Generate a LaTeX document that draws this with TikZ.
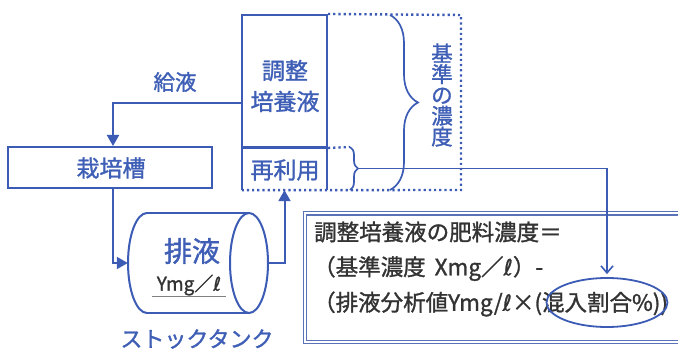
\documentclass[tikz,border=0pt]{standalone}
\usepackage{fontspec}
\setmainfont{Noto Sans CJK JP}
\newfontfamily\jp[FakeBold=1.3]{Noto Sans CJK JP}
\newfontfamily\dv[FakeBold=1]{DejaVu Sans}
\usetikzlibrary{arrows.meta,decorations.pathreplacing,shapes.geometric,calc}
\definecolor{lblue}{HTML}{3B5BB5}
\definecolor{tblue}{HTML}{3F5FB6}
\definecolor{tgray}{HTML}{333333}
\definecolor{bcol}{HTML}{5A72B8}
\begin{document}
\begin{tikzpicture}[x=1pt,y=-1pt,
  line/.style={draw=lblue,line width=2pt},
  dots/.style={draw=lblue,line width=2.4pt,dash pattern=on 2.2pt off 3pt},
  arr/.style={line,-{Triangle[length=11pt,width=12pt]}},
  box/.style={draw=lblue,line width=2pt,inner sep=0pt},
  btxt/.style={text=tblue,inner sep=0pt,font=\jp\fontsize{23}{31}\selectfont,align=center},
  ftxt/.style={text=tgray,inner sep=0pt,anchor=west,font=\jp\fontsize{22.5}{26}\selectfont},
  brace/.style={draw=lblue,line width=1.7pt,decorate}]
\useasboundingbox (0,0) rectangle (678,352);

% formula box (double border)
\node[draw=bcol,double,double distance=2pt,line width=1.2pt,minimum width=400pt,minimum height=128.5pt,inner sep=0pt] (fbox) at (505,277.7) {};

% adjusted solution box
\node[box,minimum width=85pt,minimum height=132pt] (adj) at (284.5,81) {};
\node[btxt] (adjt) at (285,86) {調整\\培養液};
\node[inner sep=0pt,minimum width=85pt,minimum height=43pt] (reuse) at (284.5,168.5) {};
\node[btxt] (reuset) at (285,170) {再利用};
\draw[line] (reuse.north west) -- (reuse.south west);
\draw[line] (reuse.north east) -- (reuse.south east);
\draw[lblue,line width=3pt] (adj.south west) -- (adj.south east);

% dotted frame
\coordinate (dtr) at (461,15);
\coordinate (dbr) at (461,190);
\coordinate (dmid) at (350,147);
\draw[dots] (adj.north east) -- (dtr) -- (dbr) -- (reuse.south west);
\draw[dots] (adj.south east) -- (dmid);

% braces
\draw[brace,decoration={brace,amplitude=28pt,aspect=0.5}] (390,15) -- (390,190);
\coordinate (sb1) at (350,147);
\coordinate (sb2) at (350,190);
\draw[brace,decoration={brace,amplitude=8pt,aspect=0.5}] (sb1) -- (sb2);
\coordinate (sbtip) at (358,168.5);

% vertical label
\node[text=tblue,inner sep=0pt,font=\jp\fontsize{21.5}{20.8}\selectfont,align=center] (kijun) at (442,95) {基\\準\\の\\濃\\度};

% cultivation tank
\node[box,minimum width=204pt,minimum height=41pt] (cult) at (110,167.5) {};
\node[btxt] (cultt) at (111,168) {栽培槽};

% feed
\node[text=tblue,inner sep=0pt,font=\jp\fontsize{21.5}{24}\selectfont] (kyueki) at (175,82) {給液};
\coordinate (k1) at (113,103);
\draw[arr] (adj.west |- k1) -| (cult.north -| k1);

% stock tank
\node[inner sep=0pt,minimum width=140pt,minimum height=100pt] (tank) at (198,263) {};
\draw[line] (147,213) -- (249,213);
\draw[line] (147,313) -- (249,313);
\draw[line] (147,213) arc[start angle=90,end angle=270,x radius=19pt,y radius=50pt];
\draw[line] (249,263) ellipse [x radius=19pt,y radius=50pt];
\node[text=tblue,inner sep=0pt,font=\jp\fontsize{28}{30}\selectfont] (haieki) at (192,251) {排液};
\node[text=tgray,inner sep=0pt,font=\jp\fontsize{19}{22}\selectfont] (ymg) at (189,285) {Ymg／{\dv ℓ}};
\draw[gray,line width=1pt] (152,296.5) -- (226,296.5);
\node[text=tblue,inner sep=0pt,font=\jp\fontsize{22}{24}\selectfont] (stock) at (197,339) {ストックタンク};

\draw[arr] (cult.south -| k1) |- (tank.west);
\draw[arr] (tank.east) -| (reuse.south);

% formula text
\node[ftxt] (f1) at (314,232) {調整培養液の肥料濃度＝};
\node[ftxt] (f2) at (313,268.5) {（基準濃度\hspace{0.4em}Xmg／{\dv ℓ}）-};
\node[ftxt] (f3) at (313,304) {（排液分析値Ymg/{\dv ℓ}×(混入割合\%))};

% mix ellipse
\node[ellipse,draw=lblue,line width=1.8pt,minimum width=121pt,minimum height=49pt,inner sep=0pt] (mix) at (607,302.5) {};
\draw[draw=lblue,line width=1.6pt,-{Straight Barb[length=7pt,width=12pt]},shorten >=3pt] (sbtip) -| (mix.north);
\end{tikzpicture}
\end{document}
